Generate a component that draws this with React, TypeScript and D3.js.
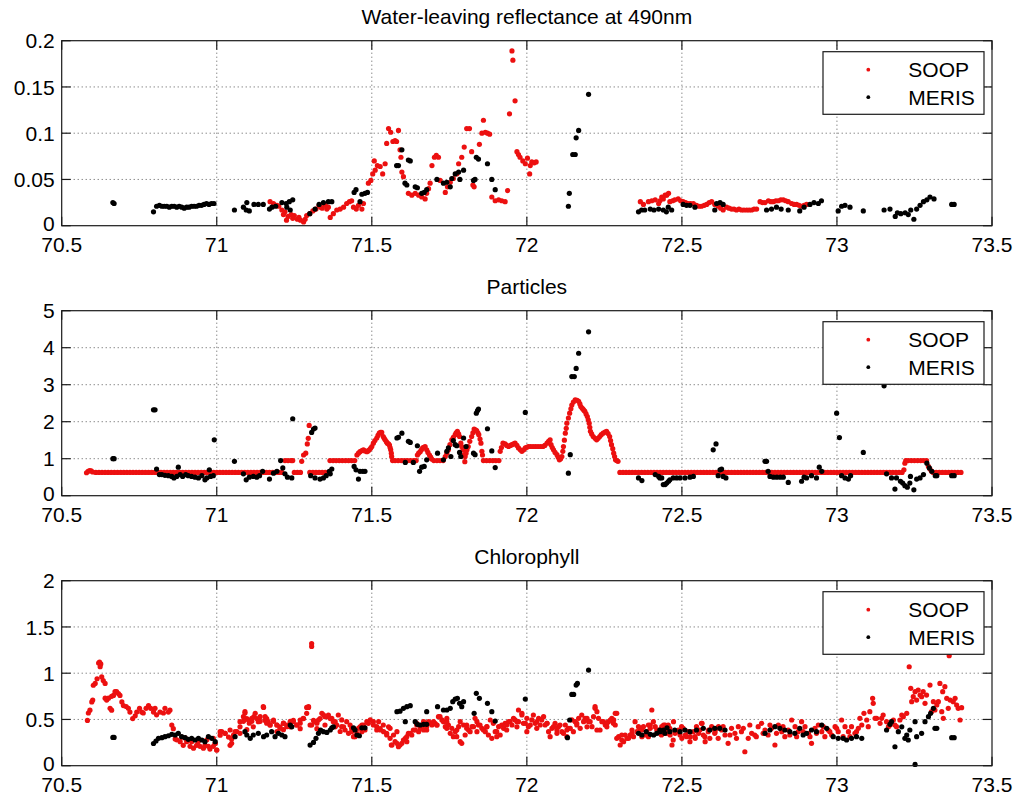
import React from 'react';
import * as d3 from 'd3';

type Pt = [number, number];

// Water-leaving reflectance at 490 nm
const reflSoop: Pt[] = [
  [71.172,0.026],[71.183,0.024],[71.194,0.022],[71.2,0.021],[71.21,0.017],[71.215,0.012],[71.22,0.015],[71.225,0.006],[71.23,0.01],[71.24,0.012],[71.245,0.008],[71.25,0.011],[71.26,0.007],[71.265,0.009],[71.27,0.006],[71.28,0.004],[71.285,0.007],[71.29,0.011],[71.3,0.013],[71.31,0.016],[71.32,0.018],[71.33,0.022],[71.335,0.02],[71.34,0.019],[71.35,0.022],[71.355,0.018],[71.36,0.02],
  [71.366,0.009],[71.376,0.013],[71.387,0.017],[71.398,0.018],[71.409,0.02],[71.419,0.024],[71.428,0.026],[71.435,0.027],[71.441,0.02],[71.45,0.018],[71.457,0.022],[71.468,0.018],[71.473,0.024],
  [71.489,0.046],[71.497,0.049],[71.503,0.056],[71.508,0.07],[71.511,0.06],[71.518,0.065],[71.527,0.064],[71.535,0.056],[71.543,0.067],[71.548,0.089],[71.554,0.105],[71.561,0.101],[71.568,0.091],[71.575,0.092],[71.58,0.091],[71.586,0.103],[71.591,0.082],[71.594,0.074],[71.597,0.058],[71.602,0.053],
  [71.618,0.035],[71.629,0.033],[71.64,0.035],[71.651,0.033],[71.661,0.031],[71.672,0.029],[71.677,0.035],[71.683,0.04],[71.688,0.046],[71.694,0.065],[71.702,0.074],[71.708,0.076],[71.715,0.074],[71.72,0.049],[71.737,0.036],[71.744,0.042],[71.753,0.047],[71.763,0.051],[71.774,0.056],[71.78,0.067],[71.79,0.074],[71.798,0.085],[71.806,0.105],[71.815,0.105],[71.822,0.08],[71.826,0.044],[71.83,0.042],
  [71.847,0.088],[71.855,0.1],[71.86,0.114],[71.866,0.101],[71.873,0.1],[71.88,0.099],[71.887,0.031],[71.898,0.027],[71.909,0.028],[71.919,0.027],[71.93,0.026],[71.938,0.038],[71.944,0.121],[71.952,0.189],[71.955,0.179],[71.962,0.135],[71.968,0.08],[71.973,0.077],[71.978,0.074],[71.987,0.07],[71.995,0.067],[72.002,0.073],[72.009,0.056],[72.011,0.065],[72.016,0.069],[72.024,0.068],[72.03,0.069],
  [72.366,0.026],[72.376,0.023],[72.392,0.026],[72.403,0.027],[72.414,0.028],[72.425,0.024],[72.429,0.027],[72.435,0.031],[72.44,0.029],[72.446,0.033],[72.451,0.033],[72.457,0.035],[72.461,0.026],[72.47,0.027],[72.477,0.028],[72.488,0.029],[72.496,0.027],[72.504,0.026],[72.512,0.025],[72.52,0.024],[72.528,0.024],[72.537,0.024],[72.547,0.022],[72.555,0.021],[72.563,0.021],[72.572,0.022],[72.58,0.023],[72.588,0.025],[72.596,0.026],[72.606,0.023],[72.617,0.021],[72.625,0.019],[72.633,0.017],[72.644,0.02],[72.652,0.019],[72.66,0.018],[72.668,0.018],[72.676,0.017],[72.684,0.018],[72.692,0.017],[72.7,0.017],[72.709,0.017],[72.717,0.017],[72.725,0.017],[72.733,0.018],[72.741,0.018],[72.752,0.026],[72.76,0.025],[72.768,0.025],[72.779,0.027],[72.787,0.026],[72.795,0.026],[72.803,0.027],[72.811,0.027],[72.819,0.028],[72.827,0.028],[72.835,0.027],[72.843,0.026],[72.854,0.024],[72.862,0.023],[72.87,0.023],[72.878,0.022],[72.886,0.021],[72.894,0.022],[72.902,0.023],
];

const reflMeris: Pt[] = [
  [70.665,0.025],[70.669,0.024],[70.796,0.015],[70.806,0.021],[70.815,0.022],[70.823,0.021],[70.831,0.021],[70.839,0.021],[70.847,0.02],[70.855,0.021],[70.863,0.021],[70.871,0.02],[70.879,0.021],[70.887,0.02],[70.895,0.019],[70.903,0.02],[70.911,0.02],[70.919,0.021],[70.927,0.021],[70.935,0.021],[70.943,0.022],[70.951,0.022],[70.959,0.023],[70.967,0.024],[70.975,0.023],[70.983,0.024],[70.991,0.024],
  [71.057,0.017],[71.086,0.02],[71.095,0.017],[71.097,0.025],[71.105,0.016],[71.12,0.023],[71.134,0.023],[71.15,0.023],[71.17,0.018],[71.178,0.02],[71.19,0.021],[71.21,0.025],[71.224,0.024],[71.226,0.02],[71.234,0.026],[71.237,0.017],[71.245,0.028],[71.3,0.013],[71.317,0.018],[71.33,0.023],[71.344,0.025],[71.36,0.026],[71.371,0.026],
  [71.443,0.036],[71.449,0.039],[71.462,0.026],[71.468,0.034],[71.478,0.035],[71.486,0.036],[71.58,0.065],[71.586,0.065],[71.597,0.082],[71.607,0.046],[71.613,0.044],[71.618,0.071],[71.624,0.07],[71.64,0.042],[71.647,0.041],[71.661,0.035],[71.669,0.036],[71.677,0.039],[71.71,0.05],[71.731,0.046],[71.742,0.047],[71.753,0.042],[71.758,0.051],[71.769,0.056],[71.78,0.058],[71.784,0.05],[71.796,0.06],[71.828,0.049],[71.833,0.05],[71.837,0.074],[71.844,0.072],[71.873,0.067],[71.887,0.05],[71.898,0.039],
  [72.134,0.021],[72.137,0.035],[72.148,0.077],[72.156,0.077],[72.159,0.095],[72.167,0.103],[72.199,0.142],
  [72.36,0.015],[72.37,0.017],[72.38,0.017],[72.398,0.018],[72.41,0.017],[72.425,0.018],[72.44,0.017],[72.45,0.015],[72.456,0.02],[72.467,0.017],[72.504,0.023],[72.515,0.022],[72.526,0.022],[72.542,0.02],[72.606,0.017],[72.612,0.024],[72.623,0.025],[72.633,0.023],[72.773,0.017],[72.789,0.018],[72.805,0.02],[72.82,0.018],[72.843,0.017],[72.88,0.016],[72.894,0.02],[72.913,0.023],[72.926,0.025],[72.94,0.024],[72.95,0.027],
  [73.004,0.016],[73.015,0.021],[73.026,0.022],[73.042,0.02],[73.085,0.016],[73.152,0.017],[73.171,0.018],[73.188,0.01],[73.195,0.014],[73.206,0.013],[73.22,0.014],[73.23,0.012],[73.238,0.017],[73.248,0.007],[73.257,0.018],[73.268,0.022],[73.279,0.026],[73.29,0.028],[73.3,0.031],[73.313,0.029],[73.37,0.023],[73.378,0.023],
];

// Particles
const partSoop: Pt[] = [
  [70.58,0.62],[70.585,0.66],[70.59,0.68],[70.595,0.67],[70.6,0.64],
  [70.61,0.63],[70.62,0.63],[70.63,0.63],[70.64,0.63],[70.65,0.63],[70.66,0.63],[70.67,0.63],[70.68,0.63],[70.69,0.63],[70.7,0.63],
  [70.71,0.63],[70.72,0.63],[70.73,0.63],[70.74,0.63],[70.75,0.63],[70.76,0.63],[70.77,0.63],[70.78,0.63],[70.79,0.63],[70.8,0.63],
  [70.81,0.63],[70.82,0.63],[70.83,0.63],[70.84,0.63],[70.85,0.63],[70.86,0.63],[70.87,0.63],[70.88,0.63],[70.89,0.63],[70.9,0.63],
  [70.91,0.63],[70.92,0.63],[70.93,0.63],[70.94,0.63],[70.95,0.63],[70.96,0.63],[70.97,0.63],[70.98,0.63],[70.99,0.63],[71.0,0.63],
  [71.01,0.63],[71.02,0.63],[71.03,0.63],[71.04,0.63],[71.05,0.63],[71.06,0.63],[71.07,0.63],[71.08,0.63],[71.09,0.63],[71.1,0.63],
  [71.11,0.63],[71.12,0.63],[71.13,0.63],[71.14,0.63],[71.15,0.63],[71.16,0.63],[71.17,0.63],[71.18,0.63],[71.19,0.63],[71.2,0.63],[71.21,0.63],
  [71.22,0.95],[71.23,0.95],[71.24,0.95],[71.245,0.95],[71.25,0.63],[71.26,0.63],[71.27,0.63],
  [71.274,0.93],[71.28,1.1],[71.287,1.15],[71.292,1.4],[71.295,1.55],[71.298,1.9],
  [71.3,0.63],[71.31,0.63],[71.32,0.63],[71.33,0.63],[71.34,0.63],[71.35,0.63],[71.36,0.63],
  [71.365,0.95],[71.375,0.95],[71.385,0.95],[71.395,0.95],[71.405,0.95],[71.415,0.95],[71.425,0.95],[71.435,0.95],[71.445,0.95],
  [71.452,1.1],[71.457,1.15],[71.462,1.19],[71.468,1.22],[71.473,1.24],[71.478,1.21],[71.484,1.19],[71.488,1.21],[71.492,1.24],[71.496,1.28],[71.5,1.33],[71.505,1.42],[71.51,1.49],[71.516,1.56],[71.52,1.63],[71.524,1.69],[71.528,1.71],[71.532,1.71],[71.537,1.6],[71.54,1.55],[71.543,1.51],[71.547,1.46],[71.55,1.42],[71.554,1.4],[71.557,1.37],[71.559,1.3],[71.561,1.24],[71.563,1.15],[71.564,1.06],[71.567,0.95],
  [71.575,0.95],[71.585,0.95],[71.595,0.95],[71.605,0.95],[71.615,0.95],[71.625,0.95],[71.635,0.95],[71.643,0.95],
  [71.647,1.1],[71.651,1.15],[71.656,1.19],[71.66,1.24],[71.664,1.29],[71.668,1.31],[71.672,1.33],[71.677,1.24],[71.681,1.17],[71.686,1.1],[71.69,1.04],[71.693,0.99],
  [71.7,0.95],[71.71,0.95],[71.72,0.95],[71.73,0.95],
  [71.737,1.06],[71.742,1.15],[71.747,1.24],[71.752,1.38],[71.758,1.51],[71.763,1.58],[71.769,1.65],[71.772,1.7],[71.776,1.74],[71.78,1.67],[71.783,1.6],[71.787,1.42],[71.79,1.33],[71.794,1.24],[71.798,1.11],[71.801,1.06],[71.8,0.92],
  [71.804,1.15],[71.807,1.24],[71.811,1.33],[71.816,1.47],[71.822,1.6],[71.826,1.7],[71.83,1.8],[71.834,1.78],[71.838,1.76],[71.842,1.7],[71.845,1.65],[71.849,1.53],[71.852,1.42],[71.855,1.2],[71.857,1.1],
  [71.86,0.95],[71.87,0.95],[71.88,0.95],[71.89,0.95],[71.9,0.95],[71.91,0.95],
  [71.914,1.2],[71.918,1.3],[71.923,1.42],[71.93,1.4],[71.935,1.36],[71.941,1.33],[71.947,1.36],[71.952,1.38],[71.957,1.4],[71.962,1.42],[71.968,1.36],[71.973,1.29],[71.979,1.24],[71.984,1.2],[71.99,1.24],[71.995,1.29],[72.0,1.31],[72.005,1.33],[72.012,1.33],[72.02,1.33],[72.028,1.33],[72.036,1.33],[72.044,1.33],[72.052,1.33],[72.058,1.36],[72.065,1.42],[72.07,1.47],[72.075,1.51],[72.078,1.38],[72.082,1.3],[72.086,1.24],[72.091,1.17],[72.097,1.11],[72.101,1.04],[72.105,0.97],[72.109,1.0],[72.113,1.06],
  [72.116,1.2],[72.118,1.33],[72.121,1.5],[72.124,1.69],[72.127,1.82],[72.129,1.96],[72.134,2.1],[72.138,2.23],[72.142,2.35],[72.145,2.45],[72.15,2.53],[72.156,2.59],[72.162,2.58],[72.167,2.55],[72.171,2.48],[72.174,2.41],[72.178,2.37],[72.181,2.34],[72.184,2.31],[72.187,2.28],[72.191,2.21],[72.195,2.14],[72.198,2.05],[72.201,1.96],[72.203,1.85],[72.205,1.74],[72.209,1.67],[72.214,1.6],[72.22,1.55],[72.225,1.51],[72.23,1.55],[72.235,1.6],[72.24,1.65],[72.246,1.69],[72.252,1.72],[72.257,1.74],[72.262,1.68],[72.267,1.6],[72.27,1.49],[72.273,1.38],[72.277,1.27],[72.28,1.15],[72.283,1.06],[72.286,0.97],[72.29,0.95],[72.294,0.93],
  [72.3,0.63],[72.31,0.63],[72.32,0.63],[72.33,0.63],[72.34,0.63],[72.35,0.63],[72.36,0.63],[72.37,0.63],[72.38,0.63],[72.39,0.63],
  [72.4,0.63],[72.41,0.63],[72.42,0.63],[72.43,0.63],[72.44,0.63],[72.45,0.63],[72.46,0.63],[72.47,0.63],[72.48,0.63],[72.49,0.63],
  [72.5,0.63],[72.51,0.63],[72.52,0.63],[72.53,0.63],[72.54,0.63],[72.55,0.63],[72.56,0.63],[72.57,0.63],[72.58,0.63],[72.59,0.63],
  [72.6,0.63],[72.61,0.63],[72.62,0.63],[72.63,0.63],[72.64,0.63],[72.65,0.63],[72.66,0.63],[72.67,0.63],[72.68,0.63],[72.69,0.63],
  [72.7,0.63],[72.71,0.63],[72.72,0.63],[72.73,0.63],[72.74,0.63],[72.75,0.63],[72.76,0.63],[72.77,0.63],[72.78,0.63],[72.79,0.63],
  [72.8,0.63],[72.81,0.63],[72.82,0.63],[72.83,0.63],[72.84,0.63],[72.85,0.63],[72.86,0.63],[72.87,0.63],[72.88,0.63],[72.89,0.63],
  [72.9,0.63],[72.91,0.63],[72.92,0.63],[72.93,0.63],[72.94,0.63],[72.95,0.63],[72.96,0.63],[72.97,0.63],[72.98,0.63],[72.99,0.63],
  [73.0,0.63],[73.01,0.63],[73.02,0.63],[73.03,0.63],[73.04,0.63],[73.05,0.63],[73.06,0.63],[73.07,0.63],[73.08,0.63],[73.09,0.63],
  [73.1,0.63],[73.11,0.63],[73.12,0.63],[73.13,0.63],[73.14,0.63],[73.15,0.63],[73.16,0.63],[73.17,0.63],[73.18,0.63],[73.19,0.63],
  [73.2,0.63],[73.21,0.63],[73.216,0.7],[73.219,0.88],
  [73.222,0.95],[73.23,0.95],[73.24,0.95],[73.25,0.95],[73.26,0.95],[73.27,0.95],[73.28,0.95],[73.289,0.95],[73.295,0.79],[73.3,0.72],[73.305,0.66],
  [73.31,0.63],[73.32,0.63],[73.33,0.63],[73.34,0.63],[73.35,0.63],[73.36,0.63],[73.37,0.63],[73.38,0.63],[73.39,0.63],[73.4,0.63],
];

const partMeris: Pt[] = [
  [70.665,1.0],[70.669,1.0],[70.796,2.32],[70.801,2.32],[70.806,0.72],[70.815,0.57],[70.823,0.57],[70.833,0.55],[70.844,0.54],[70.855,0.52],[70.862,0.48],[70.871,0.52],[70.876,0.77],[70.882,0.57],[70.89,0.52],[70.9,0.57],[70.908,0.54],[70.919,0.52],[70.93,0.5],[70.941,0.48],[70.952,0.54],[70.962,0.43],[70.968,0.48],[70.976,0.7],[70.98,0.52],[70.989,0.54],[70.992,1.51],
  [71.057,0.93],[71.086,0.59],[71.095,0.43],[71.105,0.5],[71.118,0.52],[71.129,0.5],[71.138,0.54],[71.148,0.66],[71.17,0.45],[71.183,0.61],[71.194,0.66],[71.206,0.95],[71.213,0.75],[71.22,0.59],[71.228,0.5],[71.242,0.48],[71.245,2.08],
  [71.303,0.54],[71.306,1.71],[71.312,1.8],[71.317,1.83],[71.317,0.48],[71.333,0.45],[71.344,0.48],[71.353,0.54],[71.363,0.66],[71.371,0.72],[71.366,0.59],
  [71.443,0.79],[71.449,0.7],[71.457,0.45],[71.462,0.66],[71.471,0.66],[71.478,0.66],[71.581,1.56],[71.586,1.58],[71.597,1.69],[71.608,0.9],[71.618,1.47],[71.624,1.44],[71.634,0.9],[71.647,1.35],[71.654,0.66],[71.661,0.77],[71.669,0.79],[71.677,0.97],
  [71.712,1.15],[71.731,0.97],[71.742,1.2],[71.747,1.29],[71.755,1.06],[71.763,1.49],[71.769,1.38],[71.774,1.35],[71.783,1.17],[71.787,1.06],[71.796,1.56],[71.804,1.33],[71.828,1.15],[71.833,1.11],[71.837,2.23],[71.841,2.3],[71.844,2.34],[71.873,1.81],[71.887,1.21],[71.898,0.76],[71.995,2.25],
  [72.134,0.61],[72.14,1.11],[72.145,3.22],[72.153,3.22],[72.159,3.44],[72.167,3.85],[72.199,4.43],
  [72.36,0.48],[72.371,0.41],[72.414,0.57],[72.425,0.52],[72.429,0.48],[72.435,0.48],[72.44,0.3],[72.446,0.3],[72.451,0.34],[72.457,0.39],[72.461,0.43],[72.472,0.48],[72.483,0.48],[72.494,0.48],[72.51,0.48],[72.526,0.5],[72.537,0.52],
  [72.601,1.24],[72.61,1.4],[72.617,0.54],[72.623,0.7],[72.628,0.72],[72.633,0.52],[72.642,0.48],[72.768,0.93],[72.773,0.93],[72.778,0.66],[72.784,0.52],[72.795,0.5],[72.806,0.5],[72.817,0.5],[72.827,0.5],[72.843,0.36],[72.886,0.39],[72.894,0.5],[72.902,0.48],[72.918,0.54],[72.934,0.48],[72.943,0.77],[72.951,0.66],
  [72.999,2.23],[73.008,1.57],[73.015,0.54],[73.026,0.48],[73.037,0.45],[73.044,0.54],[73.085,1.17],[73.152,2.97],[73.16,0.59],[73.176,0.48],[73.187,0.18],[73.192,0.48],[73.205,0.39],[73.212,0.34],[73.219,0.27],[73.227,0.23],[73.235,0.34],[73.237,0.52],[73.248,0.16],[73.257,0.45],[73.268,0.48],[73.279,0.57],[73.29,0.88],[73.298,0.75],[73.306,0.66],[73.317,0.54],[73.322,0.54],[73.37,0.54],[73.378,0.54],
];

// Chlorophyll
const chlSoop: Pt[] = [
  [70.583,0.49],[70.586,0.57],[70.591,0.6],[70.597,0.69],[70.6,0.71],[70.602,0.87],[70.608,0.89],[70.614,0.94],[70.619,1.11],[70.622,1.12],[70.626,1.1],[70.624,1.07],[70.629,0.96],[70.634,0.92],[70.64,0.89],
  [70.64,0.73],[70.645,0.71],[70.651,0.73],[70.661,0.75],[70.667,0.76],[70.672,0.8],[70.656,0.62],[70.661,0.6],[70.677,0.8],[70.683,0.78],[70.688,0.76],[70.694,0.69],[70.699,0.65],[70.708,0.64],[70.715,0.62],[70.72,0.58],[70.729,0.51],[70.737,0.54],[70.742,0.58],[70.751,0.62],[70.758,0.58],[70.763,0.57],[70.772,0.62],[70.78,0.65],[70.787,0.62],[70.796,0.58],[70.801,0.62],[70.806,0.55],[70.817,0.58],[70.828,0.57],[70.833,0.62],[70.844,0.58],[70.849,0.6],[70.855,0.44],[70.86,0.4],[70.866,0.29],[70.871,0.28],
  [70.882,0.26],[70.892,0.22],[70.903,0.26],[70.914,0.21],[70.925,0.19],[70.935,0.22],[70.946,0.21],[70.957,0.19],[70.962,0.22],[70.973,0.21],[70.978,0.18],[70.989,0.21],[71.0,0.17],[70.995,0.24],[70.887,0.31],[70.898,0.3],[70.919,0.26],[70.94,0.26],[70.968,0.28],
  [71.011,0.33],[71.016,0.37],[71.027,0.35],[71.038,0.31],[71.043,0.22],[71.048,0.29],[71.054,0.33],[71.065,0.37],[71.075,0.42],[71.086,0.48],[71.091,0.57],[71.097,0.51],[71.105,0.46],[71.113,0.48],[71.12,0.53],[71.129,0.51],[71.14,0.48],[71.151,0.63],[71.156,0.49],[71.161,0.46],[71.172,0.44],[71.183,0.48],[71.194,0.44],[71.204,0.42],[71.215,0.46],[71.226,0.44],[71.237,0.48],[71.247,0.49],[71.258,0.44],[71.269,0.46],[71.28,0.51],[71.29,0.63],[71.296,0.63],[71.301,0.44],[71.312,0.49],[71.323,0.46],[71.333,0.51],[71.344,0.55],[71.355,0.53],
  [71.075,0.35],[71.097,0.39],[71.118,0.42],[71.161,0.51],[71.194,0.37],[71.215,0.39],[71.237,0.42],[71.269,0.4],[71.323,0.4],[71.349,0.44],[71.306,1.32],[71.306,1.29],
  [70.989,0.296],[70.995,0.242],[71.0,0.17],[71.011,0.368],[71.027,0.35],[71.043,0.386],[71.048,0.242],[71.059,0.368],[71.075,0.476],[71.086,0.53],[71.091,0.584],[71.102,0.494],[71.113,0.512],[71.124,0.566],[71.134,0.476],[71.14,0.53],[71.15,0.638],[71.156,0.53],[71.166,0.476],[71.172,0.44],[71.183,0.494],[71.194,0.44],[71.204,0.404],[71.215,0.458],[71.226,0.422],[71.237,0.458],[71.247,0.476],[71.258,0.44],[71.269,0.494],[71.279,0.512],[71.29,0.566],[71.296,0.638],[71.306,0.44],[71.317,0.476],[71.328,0.494],[71.339,0.566],[71.349,0.53],[71.36,0.548],[71.371,0.512],[71.382,0.476],[71.392,0.548],[71.403,0.422],[71.414,0.386],[71.425,0.35],[71.435,0.368],[71.446,0.314],[71.457,0.404],[71.468,0.44],[71.478,0.386],[71.489,0.458],[71.505,0.476],[71.516,0.422],
  [71.366,0.51],[71.376,0.476],[71.387,0.44],[71.398,0.37],[71.409,0.42],[71.419,0.476],[71.43,0.44],[71.441,0.314],[71.452,0.35],[71.462,0.42],[71.473,0.44],[71.484,0.476],[71.495,0.495],[71.505,0.44],[71.516,0.386],[71.527,0.4],[71.538,0.368],[71.548,0.332],[71.559,0.296],[71.565,0.224],[71.575,0.26],[71.586,0.206],[71.597,0.242],[71.608,0.296],[71.618,0.35],[71.629,0.332],[71.64,0.386],[71.651,0.368],[71.661,0.422],[71.672,0.44],[71.683,0.476],[71.694,0.44],[71.704,0.458],[71.715,0.53],[71.726,0.495],[71.737,0.422],[71.747,0.44],[71.758,0.404],[71.769,0.368],[71.78,0.422],[71.79,0.242],[71.801,0.332],[71.812,0.386],[71.823,0.422],[71.833,0.512],[71.844,0.44],[71.855,0.404],[71.866,0.368],[71.876,0.332],[71.887,0.296],[71.898,0.368],[71.909,0.422],[71.919,0.44],[71.93,0.458],[71.941,0.476],[71.952,0.44],[71.962,0.495],[71.973,0.476],[71.984,0.548],[71.995,0.458],
  [71.527,0.386],[71.537,0.44],[71.548,0.35],[71.559,0.404],[71.563,0.224],[71.57,0.332],[71.581,0.368],[71.591,0.224],[71.602,0.278],[71.613,0.314],[71.624,0.35],[71.634,0.386],[71.645,0.44],[71.656,0.404],[71.667,0.386],[71.667,0.476],[71.677,0.422],[71.688,0.458],[71.699,0.476],[71.71,0.44],[71.72,0.53],[71.731,0.476],[71.742,0.404],[71.742,0.476],[71.753,0.35],[71.763,0.314],[71.774,0.386],[71.785,0.476],[71.785,0.26],[71.796,0.44],[71.806,0.404],[71.817,0.368],[71.828,0.422],[71.839,0.476],[71.849,0.44],[71.86,0.386],[71.871,0.422],[71.882,0.494],[71.892,0.458],[71.903,0.368],[71.914,0.332],[71.925,0.404],[71.935,0.44],[71.946,0.476],[71.957,0.512],[71.968,0.476],[71.973,0.602],[71.984,0.566],[71.989,0.458],[72.0,0.512],[72.011,0.44],[72.021,0.548],[72.032,0.476],[72.043,0.44],[72.054,0.53],[72.065,0.458],
  [72.005,0.422],[72.016,0.495],[72.027,0.458],[72.038,0.512],[72.048,0.495],[72.059,0.44],[72.07,0.368],[72.081,0.404],[72.091,0.458],[72.102,0.422],[72.113,0.368],[72.124,0.44],[72.134,0.404],[72.145,0.495],[72.156,0.476],[72.167,0.512],[72.177,0.548],[72.188,0.512],[72.199,0.476],[72.21,0.422],[72.22,0.62],[72.231,0.512],[72.242,0.476],[72.253,0.44],[72.263,0.476],[72.274,0.512],[72.285,0.566],[72.29,0.296],[72.301,0.224],[72.312,0.26],[72.323,0.296],[72.333,0.332],[72.344,0.314],[72.355,0.368],[72.366,0.386],[72.376,0.422],[72.387,0.368],[72.398,0.404],[72.403,0.602],[72.414,0.422],[72.425,0.386],[72.435,0.422],[72.446,0.44],[72.457,0.404],
  [72.075,0.314],[72.086,0.422],[72.097,0.386],[72.107,0.44],[72.118,0.35],[72.129,0.386],[72.14,0.404],[72.15,0.368],[72.161,0.458],[72.172,0.404],[72.183,0.476],[72.194,0.512],[72.204,0.476],[72.215,0.53],[72.22,0.638],[72.226,0.584],[72.236,0.386],[72.247,0.476],[72.258,0.458],[72.269,0.494],[72.279,0.458],[72.285,0.44],[72.29,0.566],[72.296,0.314],[72.306,0.278],[72.317,0.332],[72.328,0.296],[72.339,0.35],[72.349,0.476],[72.36,0.422],[72.371,0.386],[72.382,0.332],[72.392,0.314],[72.398,0.44],[72.408,0.476],[72.419,0.386],[72.43,0.35],[72.441,0.44],[72.452,0.386],[72.462,0.332],[72.468,0.224],[72.473,0.476],[72.478,0.35],[72.489,0.386],[72.5,0.296],[72.511,0.332],[72.527,0.314],[72.543,0.296],[72.554,0.35],[72.565,0.458],[72.575,0.26],[72.586,0.386],[72.597,0.404],[72.607,0.368],[72.618,0.422],
  [71.382,0.42],[71.403,0.495],[71.435,0.404],[71.468,0.368],[71.522,0.476],[71.554,0.42],[71.581,0.242],[71.613,0.26],[71.645,0.458],[71.677,0.386],[71.71,0.44],[71.742,0.512],[71.774,0.314],[71.806,0.44],[71.839,0.368],[71.871,0.42],[71.903,0.314],[71.935,0.386],[71.968,0.42],[72.0,0.368],[72.032,0.404],[72.065,0.458],[72.097,0.35],[72.129,0.314],[72.161,0.44],[72.194,0.42],[72.226,0.386],[72.258,0.42],[72.28,0.495],[72.306,0.332],[72.339,0.386],[72.371,0.314],[72.392,0.44],[72.43,0.35],[72.452,0.368],
  [72.429,0.386],[72.44,0.422],[72.451,0.35],[72.461,0.404],[72.472,0.278],[72.483,0.368],[72.494,0.332],[72.504,0.404],[72.515,0.314],[72.526,0.26],[72.537,0.368],[72.547,0.422],[72.558,0.386],[72.563,0.458],[72.574,0.314],[72.585,0.368],[72.596,0.422],[72.606,0.35],[72.617,0.296],[72.628,0.386],[72.639,0.332],[72.649,0.242],[72.66,0.404],[72.671,0.35],[72.682,0.422],[72.692,0.368],[72.703,0.151],[72.714,0.296],[72.725,0.35],[72.735,0.332],[72.746,0.422],[72.757,0.458],[72.768,0.386],[72.778,0.332],[72.789,0.404],[72.8,0.224],[72.811,0.44],[72.822,0.368],[72.832,0.314],[72.843,0.386],[72.854,0.494],[72.865,0.422],[72.875,0.368],[72.886,0.476],[72.897,0.422],[72.908,0.35],[72.918,0.242],[72.929,0.404],[72.94,0.44],[72.951,0.368],[72.961,0.314],[72.972,0.386],[72.983,0.332],[72.994,0.422],
  [73.004,0.368],[73.015,0.494],[73.026,0.422],[73.037,0.368],[73.047,0.422],[73.058,0.35],[73.069,0.404],[73.08,0.44],[73.087,0.566],[73.096,0.494],[73.106,0.584],[73.115,0.728],[73.117,0.674],[73.128,0.512],[73.139,0.458],[73.149,0.548],[73.16,0.476],[73.171,0.44],[73.182,0.494],[73.192,0.422],[73.203,0.494],[73.214,0.53],[73.225,0.566],[73.233,1.07],[73.238,0.836],[73.246,0.746],[73.257,0.71],[73.268,0.764],[73.278,0.8],[73.289,0.764],[73.3,0.872],[73.311,0.692],[73.322,0.656],[73.332,0.89],[73.341,0.8],[73.348,0.854],[73.354,0.728],[73.359,0.62],[73.365,0.71],[73.375,0.692],[73.381,0.728],[73.386,0.656],[73.391,0.62],[73.397,0.494],[73.402,0.627],
  [73.241,0.692],[73.252,0.8],[73.262,0.818],[73.273,0.746],[73.284,0.674],[73.305,0.584],[73.316,0.602],[73.327,0.692],[73.338,0.584],[73.343,0.512],[73.362,1.19],
  [72.434,0.332],[72.456,0.44],[72.478,0.368],[72.499,0.422],[72.52,0.368],[72.542,0.314],[72.569,0.332],[72.59,0.296],[72.612,0.404],[72.633,0.422],[72.655,0.332],[72.676,0.296],[72.698,0.404],[72.719,0.44],[72.74,0.314],[72.762,0.35],[72.784,0.44],[72.805,0.35],[72.826,0.422],[72.848,0.332],[72.87,0.314],[72.891,0.368],[72.913,0.314],[72.934,0.35],[72.956,0.422],[72.977,0.368],[72.999,0.404],[73.02,0.314],[73.042,0.314],[73.063,0.368],[73.074,0.512],[73.101,0.422],[73.123,0.512],[73.144,0.512],[73.166,0.422],[73.187,0.44],[73.209,0.548],
];

const chlMeris: Pt[] = [
  [70.665,0.306],[70.669,0.306],
  [70.796,0.24],[70.804,0.267],[70.812,0.296],[70.823,0.303],[70.833,0.314],[70.844,0.324],[70.855,0.339],[70.866,0.332],[70.876,0.35],[70.887,0.314],[70.898,0.303],[70.908,0.285],[70.919,0.296],[70.93,0.278],[70.941,0.296],[70.952,0.278],[70.962,0.26],[70.973,0.314],[70.984,0.296],[70.995,0.26],
  [71.059,0.314],[71.091,0.368],[71.097,0.332],[71.108,0.296],[71.118,0.332],[71.134,0.35],[71.151,0.314],[71.161,0.332],[71.177,0.368],[71.188,0.314],[71.199,0.35],[71.21,0.332],[71.22,0.314],[71.237,0.44],[71.242,0.42],
  [71.301,0.223],[71.312,0.252],[71.32,0.296],[71.328,0.35],[71.335,0.386],[71.344,0.368],[71.355,0.36],[71.366,0.386],[71.371,0.41],[71.376,0.42],
  [71.441,0.41],[71.446,0.386],[71.452,0.332],[71.46,0.324],[71.468,0.41],[71.478,0.41],
  [71.581,0.584],[71.591,0.59],[71.602,0.62],[71.613,0.638],[71.624,0.649],[71.608,0.476],[71.64,0.476],[71.647,0.447],[71.656,0.44],[71.667,0.447],[71.677,0.447],[71.677,0.584],[71.712,0.638],
  [71.731,0.602],[71.742,0.602],[71.753,0.62],[71.761,0.692],[71.769,0.72],[71.776,0.728],[71.783,0.674],[71.79,0.638],[71.796,0.692],[71.83,0.566],[71.837,0.782],[71.847,0.728],[71.873,0.674],[71.887,0.584],[71.898,0.483],[71.995,0.72],
  [72.131,0.303],[72.138,0.494],[72.145,0.771],[72.151,0.771],[72.159,0.872],[72.163,0.89],[72.199,1.034],
  [72.36,0.35],[72.371,0.332],[72.385,0.368],[72.398,0.339],[72.409,0.332],[72.419,0.35],[72.43,0.368],[72.441,0.386],[72.452,0.41],
  [72.429,0.386],[72.445,0.35],[72.461,0.368],[72.477,0.386],[72.494,0.368],[72.51,0.386],[72.526,0.368],[72.547,0.386],[72.569,0.404],[72.59,0.386],[72.606,0.404],[72.622,0.404],[72.639,0.386],
  [72.768,0.35],[72.784,0.386],[72.8,0.422],[72.816,0.404],[72.832,0.386],[72.848,0.368],[72.864,0.35],[72.88,0.404],[72.891,0.332],[72.902,0.35],[72.918,0.386],[72.934,0.368],[72.951,0.44],[72.967,0.404],[72.988,0.314],[73.004,0.296],[73.02,0.296],[73.031,0.278],[73.047,0.296],[73.063,0.314],[73.08,0.296],
  [73.16,0.386],[73.171,0.447],[73.176,0.476],[73.187,0.205],[73.198,0.368],[73.209,0.42],[73.219,0.296],[73.225,0.332],[73.23,0.278],[73.235,0.386],[73.252,0.476],[73.257,0.314],[73.273,0.35],[73.284,0.476],[73.295,0.53],[73.302,0.566],[73.311,0.62],[73.316,0.404],[73.322,0.404],[73.37,0.303],[73.378,0.303],[73.252,0.014],
];

const xTicks = [70.5, 71, 71.5, 72, 72.5, 73, 73.5];
const reflTicks = [0, 0.05, 0.1, 0.15, 0.2];
const partTicks = [0, 1, 2, 3, 4, 5];
const chlTicks = [0, 0.5, 1, 1.5, 2];
const titles = ['Water-leaving reflectance at 490nm', 'Particles', 'Chlorophyll'];
const seriesNames = ['SOOP', 'MERIS'];

const W = 1017;
const H = 797;
const LEFT = 61.7;
const RIGHT = 992;
const PANEL_H = 185;
const TOPS = [40.7, 310.7, 580.7];
const FONT = "'Liberation Sans', Arial, Helvetica, sans-serif";
const FS = 21;
const RED = '#ec1010';
const BLACK = '#000000';
const AXIS = '#1a1a1a';
const GRID = '#5a5a5a';
const TICK_LEN = 9;
const DOT_R = 2.6;

const panels = [
  { title: titles[0], ticks: reflTicks, soop: reflSoop, meris: reflMeris },
  { title: titles[1], ticks: partTicks, soop: partSoop, meris: partMeris },
  { title: titles[2], ticks: chlTicks, soop: chlSoop, meris: chlMeris },
];

const fmt = (v: number) => String(+v.toFixed(3));

function Panel({ top, title, ticks, soop, meris }: { top: number; title: string; ticks: number[]; soop: Pt[]; meris: Pt[] }) {
  const x = d3.scaleLinear().domain([xTicks[0], xTicks[xTicks.length - 1]]).range([LEFT, RIGHT]);
  const bottom = top + PANEL_H;
  const y = d3.scaleLinear().domain([ticks[0], ticks[ticks.length - 1]]).range([bottom, top]);
  const innerX = xTicks.slice(1, -1);
  const innerY = ticks.slice(1, -1);
  const legX = 823;
  const legY = top + 11;
  return (
    <g>
      <text x={(LEFT + RIGHT) / 2} y={top - 17} textAnchor="middle" fontSize={FS} fill="#000">{title}</text>
      {innerX.map((t) => (
        <line key={'gx' + t} x1={x(t)} x2={x(t)} y1={top} y2={bottom} stroke={GRID} strokeWidth={1} strokeDasharray="1,3" />
      ))}
      {innerY.map((t) => (
        <line key={'gy' + t} x1={LEFT} x2={RIGHT} y1={y(t)} y2={y(t)} stroke={GRID} strokeWidth={1} strokeDasharray="1,3" />
      ))}
      <g fill={RED}>
        {soop.map((d, i) => (
          <circle key={'s' + i} cx={x(d[0])} cy={y(d[1])} r={DOT_R} />
        ))}
      </g>
      <g fill={BLACK}>
        {meris.map((d, i) => (
          <circle key={'m' + i} cx={x(d[0])} cy={y(d[1])} r={DOT_R} />
        ))}
      </g>
      <rect x={LEFT} y={top} width={RIGHT - LEFT} height={PANEL_H} fill="none" stroke={AXIS} strokeWidth={1.2} />
      {xTicks.map((t) => (
        <g key={'xt' + t}>
          <line x1={x(t)} x2={x(t)} y1={bottom} y2={bottom - TICK_LEN} stroke={AXIS} strokeWidth={1.2} />
          <line x1={x(t)} x2={x(t)} y1={top} y2={top + TICK_LEN} stroke={AXIS} strokeWidth={1.2} />
          <text x={x(t)} y={bottom + 26} textAnchor="middle" fontSize={FS} fill="#000">{fmt(t)}</text>
        </g>
      ))}
      {ticks.map((t) => (
        <g key={'yt' + t}>
          <line x1={LEFT} x2={LEFT + TICK_LEN} y1={y(t)} y2={y(t)} stroke={AXIS} strokeWidth={1.2} />
          <line x1={RIGHT} x2={RIGHT - TICK_LEN} y1={y(t)} y2={y(t)} stroke={AXIS} strokeWidth={1.2} />
          <text x={LEFT - 7} y={y(t) - (t === ticks[0] ? 2 : 0)} dy="0.36em" textAnchor="end" fontSize={FS} fill="#000">{fmt(t)}</text>
        </g>
      ))}
      <g>
        <rect x={legX} y={legY} width={161} height={62.6} fill="#fff" stroke={AXIS} strokeWidth={1.2} />
        <circle cx={868.3} cy={legY + 18} r={1.9} fill={RED} />
        <text x={908.3} y={legY + 18} dy="0.36em" fontSize={FS} fill="#000">{seriesNames[0]}</text>
        <circle cx={868.3} cy={legY + 45.5} r={1.9} fill={BLACK} />
        <text x={908.3} y={legY + 45.5} dy="0.36em" fontSize={FS} fill="#000">{seriesNames[1]}</text>
      </g>
    </g>
  );
}

export default function App() {
  return (
    <svg
      width={W}
      height={H}
      style={{ position: 'absolute', left: 0, top: 0, display: 'block', background: '#fff' }}
      fontFamily={FONT}
    >
      <rect width={W} height={H} fill="#fff" />
      {panels.map((p, i) => (
        <Panel key={i} top={TOPS[i]} title={p.title} ticks={p.ticks} soop={p.soop} meris={p.meris} />
      ))}
    </svg>
  );
}
